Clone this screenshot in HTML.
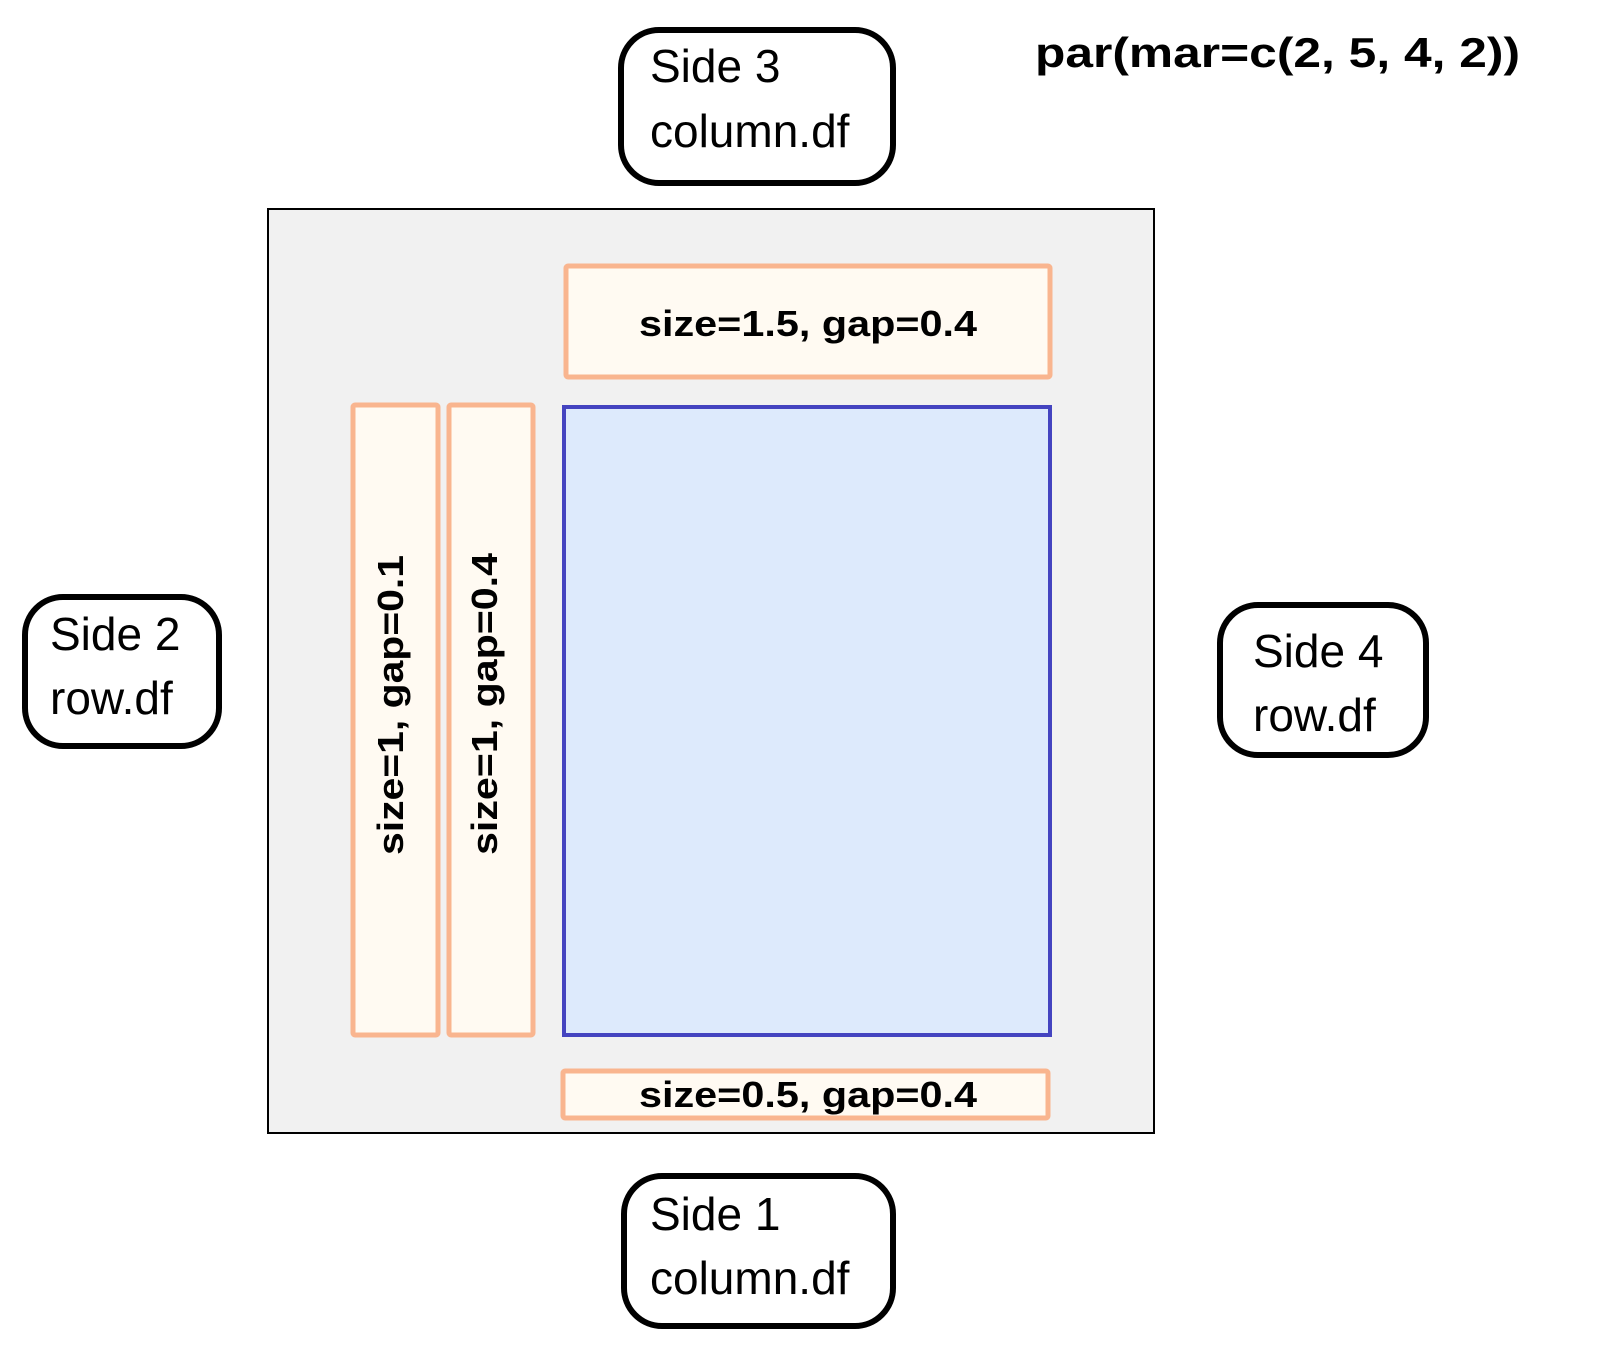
<!DOCTYPE html>
<html><head><meta charset="utf-8"><style>
html,body{margin:0;padding:0;background:#fff;}
svg{display:block;}
text{font-family:"Liberation Sans",Arial,sans-serif;fill:#000;}
</style></head><body>
<svg width="1597" height="1350" viewBox="0 0 1597 1350" xmlns="http://www.w3.org/2000/svg">
<rect x="0" y="0" width="1597" height="1350" fill="#fff"/>
<rect x="268" y="209" width="886" height="924" fill="#f1f1f1" stroke="#000" stroke-width="2"/>
<rect x="566" y="266" width="484" height="111" fill="#fffaf2" stroke="#f9b58f" stroke-width="5" rx="2"/>
<text x="808" y="336" font-size="36" font-weight="bold" text-anchor="middle" textLength="338" lengthAdjust="spacingAndGlyphs">size=1.5, gap=0.4</text>
<rect x="353" y="405" width="85" height="630" fill="#fffaf2" stroke="#f9b58f" stroke-width="5" rx="2"/>
<rect x="449" y="405" width="84" height="630" fill="#fffaf2" stroke="#f9b58f" stroke-width="5" rx="2"/>
<text transform="translate(403,855) rotate(-90)" font-size="36" font-weight="bold" textLength="300" lengthAdjust="spacingAndGlyphs">size=1, gap=0.1</text>
<text transform="translate(497,855) rotate(-90)" font-size="36" font-weight="bold" textLength="302" lengthAdjust="spacingAndGlyphs">size=1, gap=0.4</text>
<rect x="564" y="407" width="486" height="628" fill="#ddeafc" stroke="#4444c0" stroke-width="4"/>
<rect x="563" y="1071" width="485" height="47" fill="#fffaf2" stroke="#f9b58f" stroke-width="5" rx="2"/>
<text x="808" y="1107" font-size="36" font-weight="bold" text-anchor="middle" textLength="338" lengthAdjust="spacingAndGlyphs">size=0.5, gap=0.4</text>
<rect x="621" y="30" width="272" height="153" fill="#fff" stroke="#000" stroke-width="6" rx="38"/>
<text x="650" y="82" font-size="46">Side 3</text>
<text x="650" y="147" font-size="46">column.df</text>
<rect x="25" y="597" width="194" height="149" fill="#fff" stroke="#000" stroke-width="6" rx="38"/>
<text x="50" y="650" font-size="46">Side 2</text>
<text x="50" y="714" font-size="46">row.df</text>
<rect x="1220" y="605" width="206" height="150" fill="#fff" stroke="#000" stroke-width="6" rx="38"/>
<text x="1253" y="667" font-size="46">Side 4</text>
<text x="1253" y="731" font-size="46">row.df</text>
<rect x="624" y="1176" width="269" height="150" fill="#fff" stroke="#000" stroke-width="6" rx="38"/>
<text x="650" y="1230" font-size="46">Side 1</text>
<text x="650" y="1294" font-size="46">column.df</text>
<text x="1035" y="67" font-size="42" font-weight="bold" textLength="485" lengthAdjust="spacingAndGlyphs">par(mar=c(2, 5, 4, 2))</text>
</svg>
</body></html>
